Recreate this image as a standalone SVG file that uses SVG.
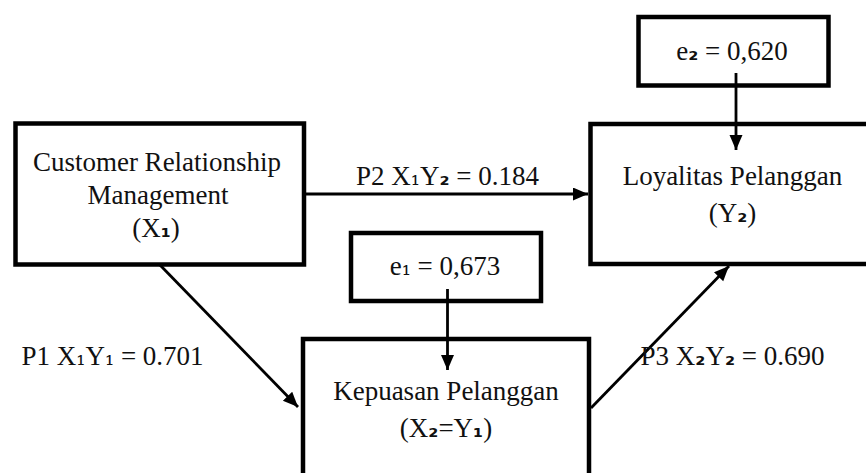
<svg xmlns="http://www.w3.org/2000/svg" width="866" height="473" viewBox="0 0 866 473">
  <defs>
    <style>
      .box { fill: #ffffff; stroke: #000000; stroke-width: 4.5; }
      .lbl { font-family: "Liberation Serif", "DejaVu Serif", serif; font-size: 27px; fill: #111111; text-anchor: middle; }
      .ss { font-family: "DejaVu Sans", "Liberation Sans", sans-serif; font-size: 23px; font-weight: bold; }
      .sr { font-family: "DejaVu Serif", "Liberation Serif", serif; font-size: 23px; }
      .conn { stroke: #000000; stroke-width: 2.8; fill: none; }
    </style>
    <marker id="arrow" markerUnits="userSpaceOnUse" markerWidth="16" markerHeight="14" refX="15" refY="6.5" orient="auto">
      <path d="M0,0 L15,6.5 L0,13 z" fill="#000000"/>
    </marker>
  </defs>
  <rect width="866" height="473" fill="#ffffff"/>

  <g id="node-crm">
    <rect class="box" x="15.5" y="123.5" width="288.5" height="141"/>
    <text class="lbl" x="157" y="171">Customer Relationship</text>
    <text class="lbl" x="158" y="204">Management</text>
    <text class="lbl" x="156" y="237">(X<tspan class="ss" font-weight="normal">₁</tspan>)</text>
  </g>

  <g id="node-loyalitas">
    <rect class="box" x="590.5" y="124" width="290" height="140"/>
    <text class="lbl" x="732.5" y="185">Loyalitas Pelanggan</text>
    <text class="lbl" x="732.5" y="222">(Y<tspan class="ss">₂</tspan>)</text>
  </g>

  <g id="node-e2">
    <rect class="box" x="638.5" y="17" width="190" height="68.5"/>
    <text class="lbl" x="732" y="60">e<tspan class="ss">₂</tspan> = 0,620</text>
  </g>

  <g id="node-e1">
    <rect class="box" x="351" y="233" width="190" height="68"/>
    <text class="lbl" x="445" y="275">e<tspan class="sr">₁</tspan> = 0,673</text>
  </g>

  <g id="node-kepuasan">
    <rect class="box" x="303" y="339" width="286" height="160"/>
    <text class="lbl" x="446" y="400">Kepuasan Pelanggan</text>
    <text class="lbl" x="446" y="437">(X<tspan class="ss">₂</tspan>=Y<tspan class="ss" font-weight="normal">₁</tspan>)</text>
  </g>

  <g id="connectors">
    <line class="conn" x1="736" y1="73" x2="736" y2="150" marker-end="url(#arrow)"/>
    <line class="conn" x1="447.5" y1="289" x2="447.5" y2="370" marker-end="url(#arrow)"/>
    <line class="conn" x1="304" y1="194" x2="588" y2="194" marker-end="url(#arrow)"/>
    <line class="conn" x1="160" y1="265" x2="298" y2="407" marker-end="url(#arrow)"/>
    <line class="conn" x1="591" y1="408" x2="729" y2="266" marker-end="url(#arrow)"/>
  </g>

  <g id="labels">
    <text class="lbl" x="447.5" y="185">P2 X<tspan class="sr">₁</tspan>Y<tspan class="ss">₂</tspan> = 0.184</text>
    <text class="lbl" x="112.5" y="365">P1 X<tspan class="sr">₁</tspan>Y<tspan class="sr">₁</tspan> = 0.701</text>
    <text class="lbl" x="732.5" y="365">P3 X<tspan class="ss">₂</tspan>Y<tspan class="ss">₂</tspan> = 0.690</text>
  </g>
</svg>
